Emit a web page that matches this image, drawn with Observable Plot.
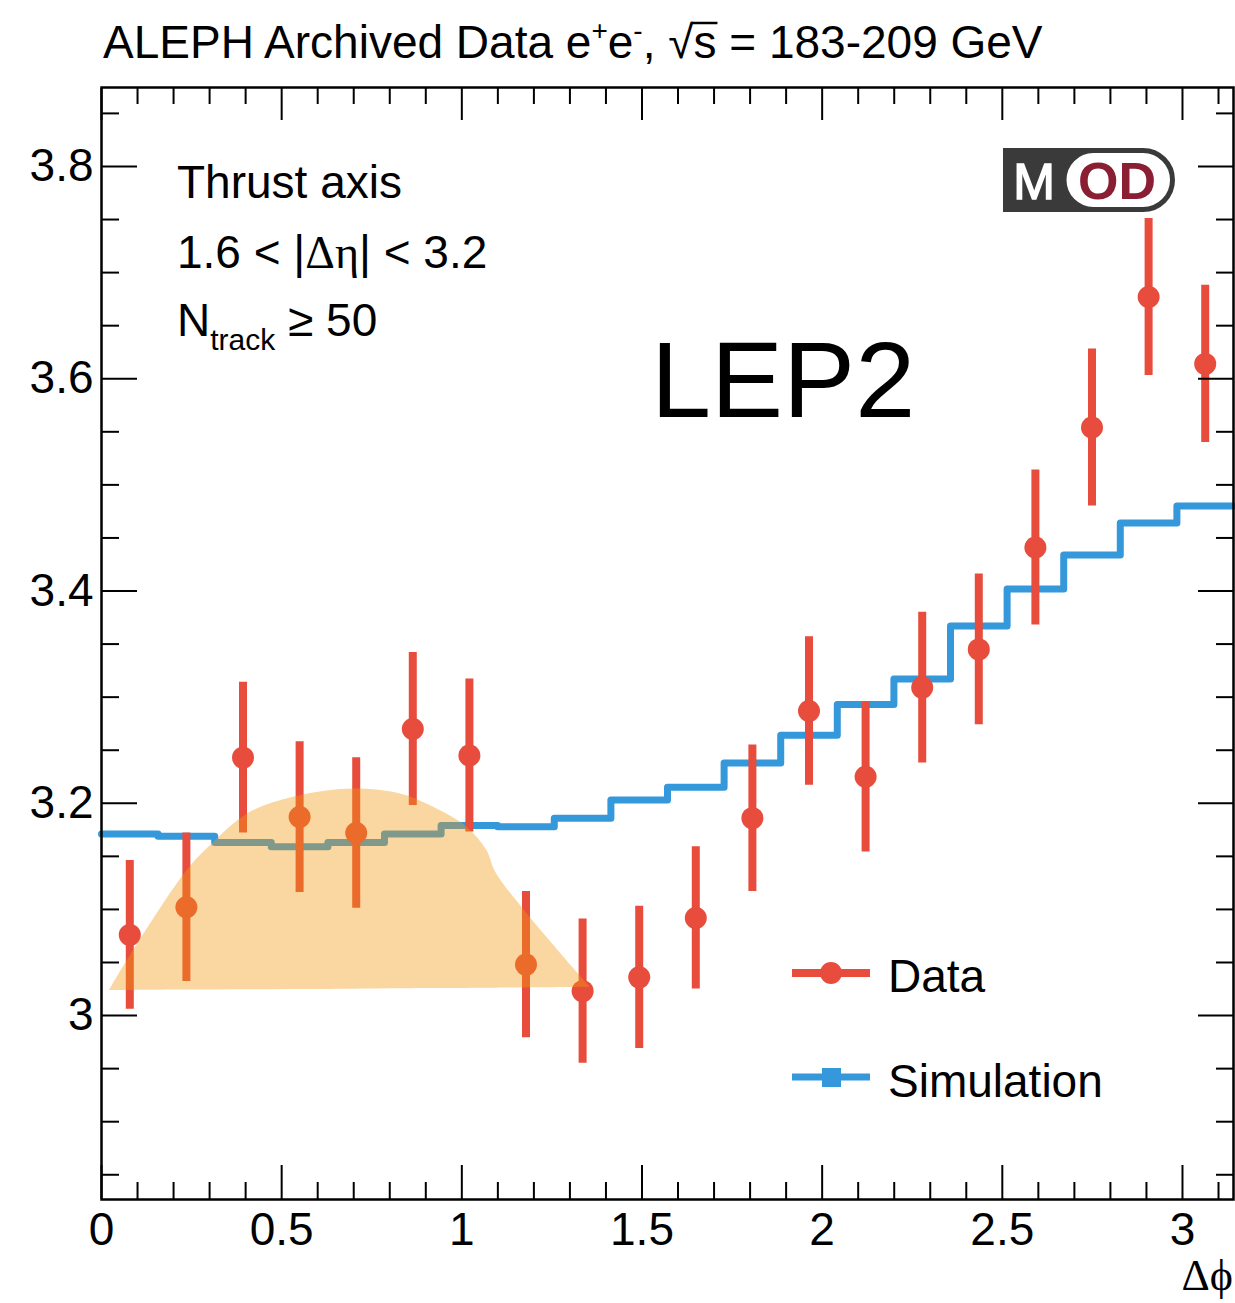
<!DOCTYPE html>
<html><head><meta charset="utf-8">
<script src="https://cdn.jsdelivr.net/npm/d3@7"></script>
<script src="https://cdn.jsdelivr.net/npm/@observablehq/plot@0.6"></script>
<style>
body{margin:0;background:#fff;}
#wrap{position:relative;width:1235px;height:1303px;font-family:"Liberation Sans",Arial,sans-serif;}
#wrap > svg{position:absolute;left:0;top:0;}
</style></head><body><div id="wrap"></div>
<script>
// ---- data ----
const phiCenters = [0.0785,0.2356,0.3927,0.5498,0.7069,0.8639,1.0210,1.1781,1.3352,1.4923,1.6493,1.8064,1.9635,2.1206,2.2777,2.4347,2.5918,2.7489,2.9060,3.0631];
const dataValues = [3.076,3.102,3.243,3.187,3.172,3.270,3.245,3.048,3.023,3.036,3.092,3.186,3.287,3.225,3.309,3.345,3.441,3.554,3.677,3.614];
const dataErrors = [0.070,0.070,0.071,0.071,0.071,0.072,0.072,0.069,0.068,0.067,0.067,0.069,0.070,0.071,0.071,0.071,0.073,0.074,0.074,0.074];
const binEdges = [0,0.1571,0.3142,0.4712,0.6283,0.7854,0.9425,1.0996,1.2566,1.4137,1.5708,1.7279,1.8850,2.0420,2.1991,2.3562,2.5133,2.6704,2.8274,2.9845,3.1416];
const simValues = [3.171,3.169,3.163,3.159,3.163,3.171,3.179,3.178,3.186,3.203,3.215,3.238,3.264,3.293,3.317,3.367,3.402,3.434,3.464,3.480];
const bandX    = [0.0222,0.0804,0.2376,0.3024,0.4133,0.5520,0.7000,0.8294,0.9219,1.0143,1.0698,1.0975,1.3564];
const bandHigh = [3.0236,3.0565,3.1366,3.1601,3.1915,3.2072,3.2135,3.2088,3.1962,3.1774,3.1554,3.1330,3.0267];
const bandLow  = [3.0236,3.0237,3.0240,3.0241,3.0243,3.0246,3.0249,3.0252,3.0254,3.0256,3.0257,3.0258,3.0267];
const xMajorTicks = [0,0.5,1,1.5,2,2.5,3];
const xMinorTicks = [0.1,0.2,0.3,0.4,0.6,0.7,0.8,0.9,1.1,1.2,1.3,1.4,1.6,1.7,1.8,1.9,2.1,2.2,2.3,2.4,2.6,2.7,2.8,2.9,3.1];
const yMajorTicks = [3.0,3.2,3.4,3.6,3.8];
const yMinorTicks = [2.85,2.9,2.95,3.05,3.1,3.15,3.25,3.3,3.35,3.45,3.5,3.55,3.65,3.7,3.75,3.85];

const dataRows = phiCenters.map((x,i)=>({x, y:dataValues[i], lo:dataValues[i]-dataErrors[i], hi:dataValues[i]+dataErrors[i]}));
const simRows = binEdges.map((x,i)=>({x, y:simValues[Math.min(i, simValues.length-1)]}));
const bandRows = bandX.map((x,i)=>({x, lo:bandLow[i], hi:bandHigh[i]}));

const RED="#e74c3c", BLUE="#3498db", ORANGE="#f39c12";

const chart = Plot.plot({
  width:1235, height:1303,
  marginTop:87, marginBottom:104, marginLeft:101, marginRight:2,
  style:{fontFamily:'"Liberation Sans", Arial, sans-serif', fontSize:"46px", color:"#000", background:"transparent", overflow:"visible"},
  x:{domain:[0,Math.PI]},
  y:{domain:[2.8267,3.8744]},
  marks:[
    Plot.line(simRows,{x:"x",y:"y",curve:"step-after",stroke:BLUE,strokeWidth:7}),
    Plot.ruleX(dataRows,{x:"x",y1:"lo",y2:"hi",stroke:RED,strokeWidth:8}),
    Plot.dot(dataRows,{x:"x",y:"y",r:11,fill:RED,stroke:null}),
    Plot.areaY(bandRows,{x:"x",y1:"lo",y2:"hi",fill:ORANGE,fillOpacity:0.4,curve:"catmull-rom"}),
    // inward ticks
    Plot.axisX({anchor:"bottom",ticks:xMajorTicks,tickSize:-34,tickFormat:()=>"",label:null,strokeWidth:2}),
    Plot.axisX({anchor:"bottom",ticks:xMinorTicks,tickSize:-17,tickFormat:()=>"",label:null,strokeWidth:2}),
    Plot.axisX({anchor:"top",ticks:xMajorTicks,tickSize:-32,tickFormat:()=>"",label:null,strokeWidth:2}),
    Plot.axisX({anchor:"top",ticks:xMinorTicks,tickSize:-16,tickFormat:()=>"",label:null,strokeWidth:2}),
    Plot.axisY({anchor:"left",ticks:yMajorTicks,tickSize:-36,tickFormat:()=>"",label:null,strokeWidth:2}),
    Plot.axisY({anchor:"left",ticks:yMinorTicks,tickSize:-18,tickFormat:()=>"",label:null,strokeWidth:2}),
    Plot.axisY({anchor:"right",ticks:yMajorTicks,tickSize:-36,tickFormat:()=>"",label:null,strokeWidth:2}),
    Plot.axisY({anchor:"right",ticks:yMinorTicks,tickSize:-18,tickFormat:()=>"",label:null,strokeWidth:2}),
    // labels
    Plot.axisX({anchor:"bottom",ticks:xMajorTicks,tickSize:0,tickPadding:13,tickFormat:d=>String(d),label:null,fill:"#000"}),
    Plot.axisY({anchor:"left",ticks:yMajorTicks,tickSize:0,tickPadding:8,tickFormat:d=>(d===3?"3":d.toFixed(1)),label:null,fill:"#000"}),
    Plot.frame({stroke:"#000",strokeWidth:2.5})
  ]
});
const wrap = document.getElementById("wrap");
wrap.appendChild(chart);

// overlay: title, annotations, legend, logo
const ns="http://www.w3.org/2000/svg";
const ov = document.createElementNS(ns,"svg");
ov.setAttribute("width",1235); ov.setAttribute("height",1303);
ov.style.fontFamily='"Liberation Sans", Arial, sans-serif';
ov.innerHTML = `
<text x="103" y="58" font-size="46">ALEPH Archived Data e<tspan font-size="28" dy="-18">+</tspan><tspan dy="18">e</tspan><tspan font-size="28" dy="-18">-</tspan><tspan dy="18">, √</tspan><tspan id="sqs">s</tspan> = 183-209 GeV</text>
<text x="177" y="198" font-size="46">Thrust axis</text>
<text x="177" y="268" font-size="46">1.6 &lt; |<tspan font-family="Liberation Serif">Δη</tspan>| &lt; 3.2</text>
<text x="177" y="336" font-size="46">N<tspan font-size="30" dy="14">track</tspan><tspan dy="-14"> ≥ 50</tspan></text>
<text x="651" y="417" font-size="108">LEP2</text>
<line x1="792" y1="973" x2="870" y2="973" stroke="${RED}" stroke-width="8"/>
<circle cx="831" cy="973" r="11" fill="${RED}"/>
<text x="888" y="992" font-size="46">Data</text>
<line x1="792" y1="1077" x2="870" y2="1077" stroke="${BLUE}" stroke-width="7"/>
<rect x="822" y="1068" width="19" height="19" fill="${BLUE}"/>
<text x="888" y="1097" font-size="46">Simulation</text>
<text x="1233" y="1290" font-size="44" text-anchor="end" font-family="Liberation Serif">Δϕ</text>
<rect x="1003" y="148" width="120" height="64" fill="#3a3a3a"/>
<rect x="1064" y="150.5" width="108.5" height="59" rx="29.5" fill="#fff" stroke="#3a3a3a" stroke-width="5"/>
<text x="1034" y="199" font-size="50" fill="#fff" text-anchor="middle" stroke="#fff" stroke-width="1.5">M</text>
<text x="1117" y="199" font-size="52" font-weight="bold" fill="#8a1e32" text-anchor="middle">OD</text>
`;
wrap.appendChild(ov);
// overline over the s of the square root
const sq = ov.querySelector("#sqs");
try {
  const n = sq.getNumberOfChars ? 0 : 0;
  const start = sq.getStartPositionOfChar(0), end = sq.getEndPositionOfChar(0);
  const ln = document.createElementNS(ns,"line");
  ln.setAttribute("x1", start.x - 2); ln.setAttribute("x2", end.x + 1);
  ln.setAttribute("y1", 23); ln.setAttribute("y2", 23);
  ln.setAttribute("stroke","#000"); ln.setAttribute("stroke-width","2.5");
  ov.appendChild(ln);
} catch(e) {}
</script></body></html>
